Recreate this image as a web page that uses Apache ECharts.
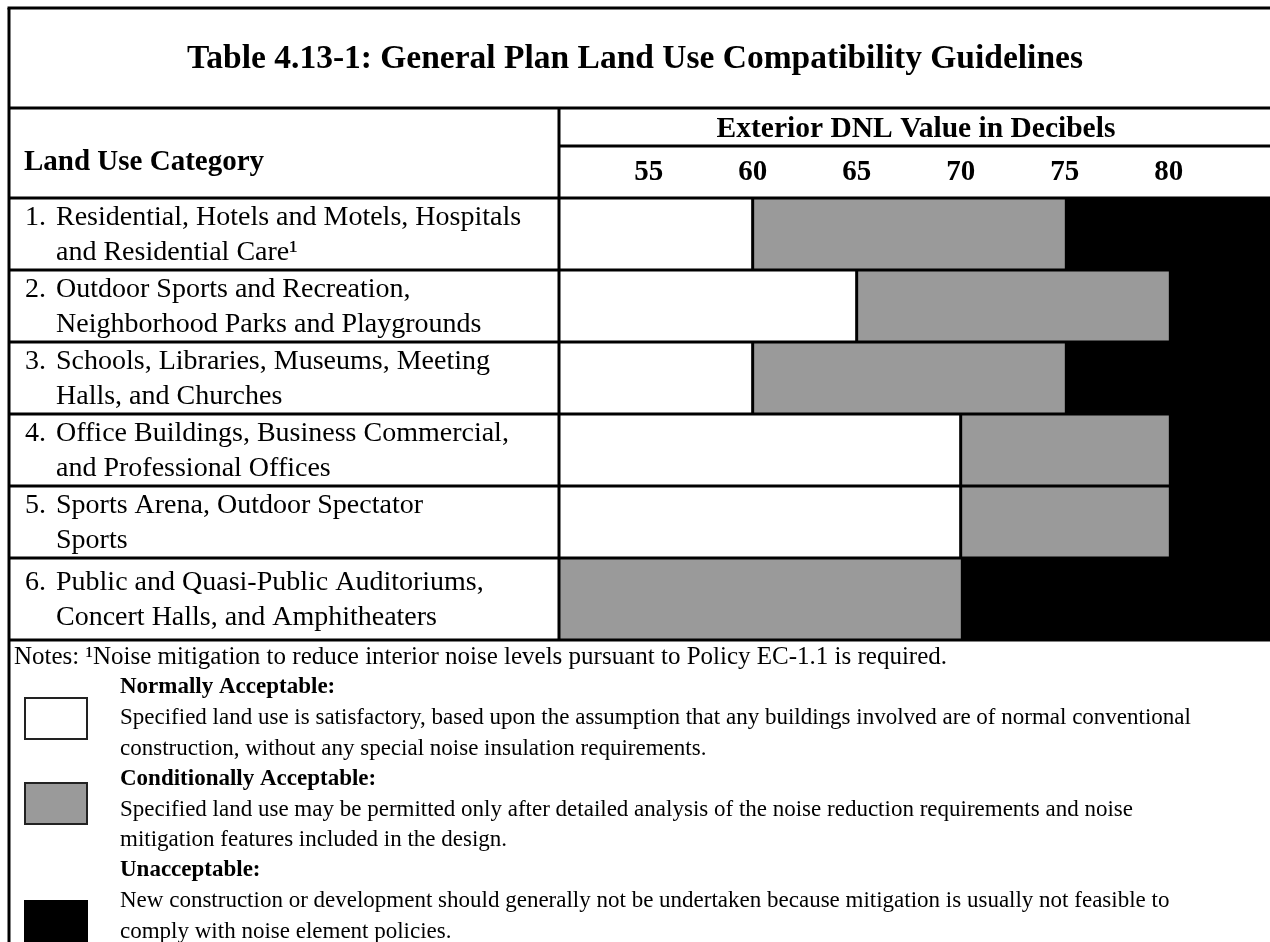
<!DOCTYPE html>
<html lang="en">
<head>
  <meta charset="UTF-8">
  <title>Land Use Compatibility Guidelines</title>
  <style>
    html, body { margin: 0; padding: 0; background: #fff; }
    #chart { width: 1270px; height: 942px; }
  </style>
  <script src="https://cdn.jsdelivr.net/npm/echarts@6/dist/echarts.min.js"></script>
</head>
<body>
  <div id="chart"></div>
<script>
  // table rows (two lines each)
  const landUses = [
    ['Residential, Hotels and Motels, Hospitals', 'and Residential Care\u00b9'],
    ['Outdoor Sports and Recreation,', 'Neighborhood Parks and Playgrounds'],
    ['Schools, Libraries, Museums, Meeting', 'Halls, and Churches'],
    ['Office Buildings, Business Commercial,', 'and Professional Offices'],
    ['Sports Arena, Outdoor Spectator', 'Sports'],
    ['Public and Quasi-Public Auditoriums,', 'Concert Halls, and Amphitheaters']
  ];
  // DNL where "normally acceptable" ends (null = none), and where "conditionally acceptable" ends
  const acceptableTo  = [60, 65, 60, 70, 70, null];
  const conditionalTo = [75, 80, 75, 80, 80, 70];
  const dnlTicks = [55, 60, 65, 70, 75, 80];

  const titleText = 'Table 4.13-1: General Plan Land Use Compatibility Guidelines';
  const noteLine = 'Notes: \u00b9Noise mitigation to reduce interior noise levels pursuant to Policy EC-1.1 is required.';
  const legendItems = [
    { name: 'Normally Acceptable:', color: '#fff',
      text: ['Specified land use is satisfactory, based upon the assumption that any buildings involved are of normal conventional',
             'construction, without any special noise insulation requirements.'] },
    { name: 'Conditionally Acceptable:', color: '#9a9a9a',
      text: ['Specified land use may be permitted only after detailed analysis of the noise reduction requirements and noise',
             'mitigation features included in the design.'] },
    { name: 'Unacceptable:', color: '#000',
      text: ['New construction or development should generally not be undertaken because mitigation is usually not feasible to',
             'comply with noise element policies.'] }
  ];

  // layout
  const W = 1270;
  const LEFT = 9, DIV = 559;
  const TOP = 8, TITLE_B = 108, SUB = 146, ROW_T = 198, ROW_B = 640;
  const X_MIN = 50.69, X_MAX = 84.87;
  const rowSpan = [1, 1, 1, 1, 1, 1.14];
  const rowStart = [];
  rowSpan.reduce((s, v, i) => { rowStart[i] = s; return s + v; }, 0);
  const Y_MAX = rowSpan.reduce((a, b) => a + b, 0);
  const rowPx = v => ROW_T + v / Y_MAX * (ROW_B - ROW_T);
  const GREY = '#9a9a9a';
  const SERIF = '"Liberation Serif", "Times New Roman", serif';

  function txt(text, x, y, size, bold, align) {
    return {
      type: 'text', z: 110,
      style: {
        text: text, x: x, y: y,
        font: (bold ? 'bold ' : '') + size + 'px ' + SERIF,
        fill: '#000',
        align: align || 'left', textAlign: align || 'left',
        verticalAlign: 'middle', textVerticalAlign: 'middle'
      }
    };
  }
  function hline(y, x1, x2, w) {
    return { type: 'line', z: 100, shape: { x1: x1, y1: y, x2: x2, y2: y }, style: { stroke: '#000', lineWidth: w || 3 } };
  }
  function vline(x, y1, y2, w) {
    return { type: 'line', z: 100, shape: { x1: x, y1: y1, x2: x, y2: y2 }, style: { stroke: '#000', lineWidth: w || 3 } };
  }

  const graphics = [];
  // frame
  graphics.push(hline(TOP, LEFT - 1.5, W));
  graphics.push(vline(LEFT, TOP, 942));
  graphics.push(hline(TITLE_B, LEFT, W));
  graphics.push(vline(DIV, TITLE_B, ROW_B));
  graphics.push(hline(SUB, DIV, W));
  for (let i = 0; i <= rowSpan.length; i++) {
    const v = i < rowSpan.length ? rowStart[i] : Y_MAX;
    graphics.push(hline(rowPx(v), LEFT, W));
  }
  // headings
  graphics.push(txt(titleText, 635, 59, 33.5, true, 'center'));
  graphics.push(txt('Land Use Category', 24, 163, 29, true));
  graphics.push(txt('Exterior DNL Value in Decibels', 916, 129, 29.5, true, 'center'));
  // row labels
  landUses.forEach((lines, i) => {
    const c = (rowPx(rowStart[i]) + rowPx(rowStart[i] + rowSpan[i])) / 2;
    graphics.push(txt((i + 1) + '.', 25, c - 16, 28));
    graphics.push(txt(lines[0], 56, c - 16, 28));
    graphics.push(txt(lines[1], 56, c + 19, 28));
  });
  // notes + legend
  const pitch = 30.5;
  let base = 662;
  graphics.push(txt(noteLine, 14, base - 5, 25));
  const boxTops = [698, 783, 901];
  legendItems.forEach((item, k) => {
    base += pitch;
    graphics.push(txt(item.name, 120, base - 5, 23, true));
    item.text.forEach(t => {
      base += pitch;
      graphics.push(txt(t, 120, base - 5, 23));
    });
    graphics.push({
      type: 'rect', z: 100,
      shape: { x: 25, y: boxTops[k], width: 62, height: k === 2 ? 50 : 41 },
      style: { fill: item.color, stroke: k === 2 ? '#000' : '#222', lineWidth: 2 }
    });
  });

  const chart = echarts.init(document.getElementById('chart'));
  const option = {
    animation: false,
    backgroundColor: '#fff',
    grid: { left: DIV, right: 0, top: ROW_T, bottom: 942 - ROW_B },
    xAxis: {
      type: 'value', position: 'top',
      min: X_MIN, max: X_MAX,
      axisLine: { show: false }, axisTick: { show: false }, splitLine: { show: false },
      axisLabel: {
        customValues: dnlTicks,
        formatter: v => (dnlTicks.indexOf(v) >= 0 ? String(v) : ''),
        margin: 25, verticalAlign: 'middle',
        color: '#000', fontSize: 29, fontWeight: 'bold', fontFamily: SERIF
      }
    },
    yAxis: { type: 'value', min: 0, max: Y_MAX, inverse: true, show: false },
    series: [{
      type: 'custom',
      clip: false,
      encode: { x: [0, 1], y: [2, 3] },
      data: acceptableTo.map((a, i) => [a == null ? X_MIN : a, conditionalTo[i], rowStart[i], rowStart[i] + rowSpan[i]]),
      renderItem: function (params, api) {
        const i = params.dataIndex;
        const p0 = api.coord([api.value(0), api.value(2)]);
        const p1 = api.coord([api.value(1), api.value(3)]);
        const pe = api.coord([X_MAX, api.value(3)]);
        const children = [
          { type: 'rect', shape: { x: p0[0], y: p0[1], width: p1[0] - p0[0], height: p1[1] - p0[1] }, style: { fill: GREY } },
          { type: 'rect', shape: { x: p1[0], y: p0[1], width: pe[0] - p1[0], height: p1[1] - p0[1] }, style: { fill: '#000' } }
        ];
        if (acceptableTo[i] != null) {
          children.push({ type: 'line', shape: { x1: p0[0], y1: p0[1], x2: p0[0], y2: p1[1] }, style: { stroke: '#000', lineWidth: 3 } });
        }
        return { type: 'group', children: children };
      }
    }],
    graphic: { elements: graphics }
  };
  chart.setOption(option);
</script>
</body>
</html>
